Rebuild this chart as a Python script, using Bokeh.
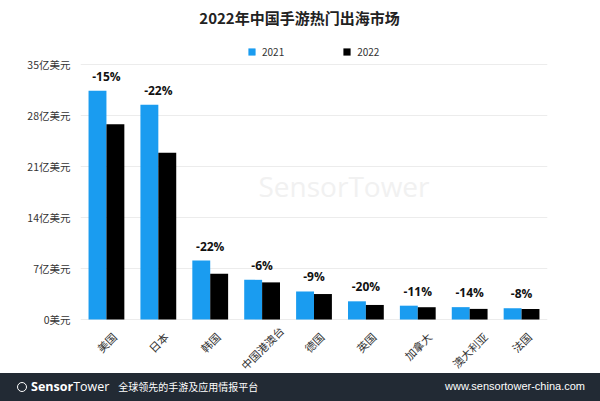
import math
from bokeh.plotting import figure
from bokeh.models import (ColumnDataSource, FixedTicker, Legend, LegendItem,
                          LabelSet, Label, Div, Range1d, FactorRange)
from bokeh.transform import dodge
from bokeh.layouts import column
from bokeh.embed import file_html
from bokeh.resources import INLINE
from bokeh.core.properties import value

# ---- data ----
markets = ["美国", "日本", "韩国", "中国港澳台", "德国", "英国", "加拿大", "澳大利亚", "法国"]
rev_2021 = [31.4, 29.5, 8.1, 5.45, 3.85, 2.5, 1.9, 1.7, 1.55]
rev_2022 = [26.8, 22.9, 6.3, 5.1, 3.5, 2.0, 1.69, 1.46, 1.43]
changes = ["-15%", "-22%", "-22%", "-6%", "-9%", "-20%", "-11%", "-14%", "-8%"]
series = ["2021", "2022"]
y_ticks = [0, 7, 14, 21, 28, 35]
y_tick_labels = ["0美元", "7亿美元", "14亿美元", "21亿美元", "28亿美元", "35亿美元"]
title_text = "2022年中国手游热门出海市场"

CJK = "Noto Sans CJK SC"
BLUE = "#1a9cf0"
Y_MAX = 43.8    # plot area runs from canvas top ...
Y_MIN = -7.41   # ... down to the footer so the slanted category labels fit
CAT_FONT = 11   # px
BELOW_ZERO = 54  # px available under the zero line
R = math.sqrt(0.5) / 2


def cat_off(n):
    # rotated label box centred on its category, top ~11px under the zero line,
    # but never running past the bottom of the plot area
    want = 11 + (n + 1) * CAT_FONT * R
    limit = BELOW_ZERO - (n + 1.5) * CAT_FONT * R - 0.5
    return -min(want, limit)


src = ColumnDataSource(dict(
    market=markets, r21=rev_2021, r22=rev_2022, change=changes,
    top=[max(a, b) for a, b in zip(rev_2021, rev_2022)],
    base=[0] * len(markets), cat_off=[cat_off(len(m)) for m in markets],
))

p = figure(width=600, height=373, title=None,
           x_range=FactorRange(*markets, range_padding=0),
           y_range=Range1d(Y_MIN, Y_MAX), output_backend="svg", toolbar_location=None,
           min_border_left=80, min_border_right=53, min_border_top=0,
           min_border_bottom=0)
p.outline_line_color = None
p.background_fill_color = "white"
p.border_fill_color = "white"

# watermark
p.add_layout(Label(x=178, y=188, x_units="screen", y_units="screen",
                   text="SensorTower", text_font="Open Sans",
                   text_font_size="28px", text_color="#f1f1f1",
                   text_baseline="middle", level="underlay"))

# title
p.add_layout(Label(x=219, y=356, x_units="screen", y_units="screen",
                   text=title_text, text_font=CJK, text_font_size="15px",
                   text_font_style="bold", text_color="#222222",
                   text_align="center", text_baseline="middle"))

r1 = p.vbar(x=dodge("market", -0.1725, range=p.x_range), top="r21", width=0.345,
            source=src, color=BLUE, line_color=None)
r2 = p.vbar(x=dodge("market", 0.1725, range=p.x_range), top="r22", width=0.345,
            source=src, color="black", line_color=None)

p.add_layout(LabelSet(x="market", y="top", text="change", source=src,
                      text_align="center", text_baseline="bottom", y_offset=6,
                      text_font=value("Open Sans"), text_font_style="bold",
                      text_font_size="12px", text_color="#111111"))

# category labels (slanted, centred under each pair of bars)
p.add_layout(LabelSet(x="market", y="base", text="market", source=src,
                      y_offset="cat_off", angle=math.pi / 4,
                      text_align="center", text_baseline="middle",
                      text_font=value(CJK), text_font_size=f"{CAT_FONT}px",
                      text_color="#333333"))

legend = Legend(items=[LegendItem(label=series[0], renderers=[r1]),
                       LegendItem(label=series[1], renderers=[r2])],
                orientation="horizontal", location=(167, 314), spacing=58,
                label_text_font=CJK, label_text_font_size="10px",
                label_text_color="#333333", glyph_width=9, glyph_height=9,
                label_standoff=6, border_line_color=None,
                background_fill_alpha=0, padding=0, margin=0)
p.add_layout(legend, "center")

# axes
p.xaxis.visible = False
p.xgrid.grid_line_color = None
p.ygrid.grid_line_color = "#ececec"
p.ygrid.ticker = FixedTicker(ticks=y_ticks)
p.yaxis.ticker = FixedTicker(ticks=y_ticks)
p.yaxis.major_label_overrides = {t: s for t, s in zip(y_ticks, y_tick_labels)}
p.yaxis.axis_line_color = None
p.yaxis.major_tick_line_color = None
p.yaxis.minor_tick_line_color = None
p.yaxis.major_tick_out = 0
p.yaxis.major_tick_in = 0
p.yaxis.minor_tick_out = 0
p.yaxis.minor_tick_in = 0
p.yaxis.major_label_text_font = CJK
p.yaxis.major_label_text_font_size = "10.5px"
p.yaxis.major_label_text_color = "#333333"
p.yaxis.major_label_standoff = 10

footer_html = (
    '<div style="display:flex;align-items:center;justify-content:space-between;'
    'width:600px;height:28px;color:#ffffff;font-family:\'Open Sans\',sans-serif;">'
    '<div style="display:flex;align-items:center;padding-left:17px;">'
    '<span style="display:inline-block;width:10px;height:10px;border:1.5px solid #fff;border-radius:50%;"></span>'
    '<span style="font-size:12.5px;font-weight:bold;margin-left:4px;">Sensor</span>'
    '<span style="font-size:12.5px;">Tower</span>'
    '<span style="font-size:10px;margin-left:9px;font-family:\'Noto Sans CJK SC\';">全球领先的手游及应用情报平台</span>'
    '</div>'
    '<div style="font-size:11px;padding-right:15px;font-family:\'Liberation Sans\';">www.sensortower-china.com</div>'
    '</div>'
)
footer = Div(text=footer_html, width=600, height=28, margin=0,
             styles={"background-color": "#222a34"})

layout = column(p, footer, spacing=0)
open("out.html", "w").write(file_html(layout, INLINE))
